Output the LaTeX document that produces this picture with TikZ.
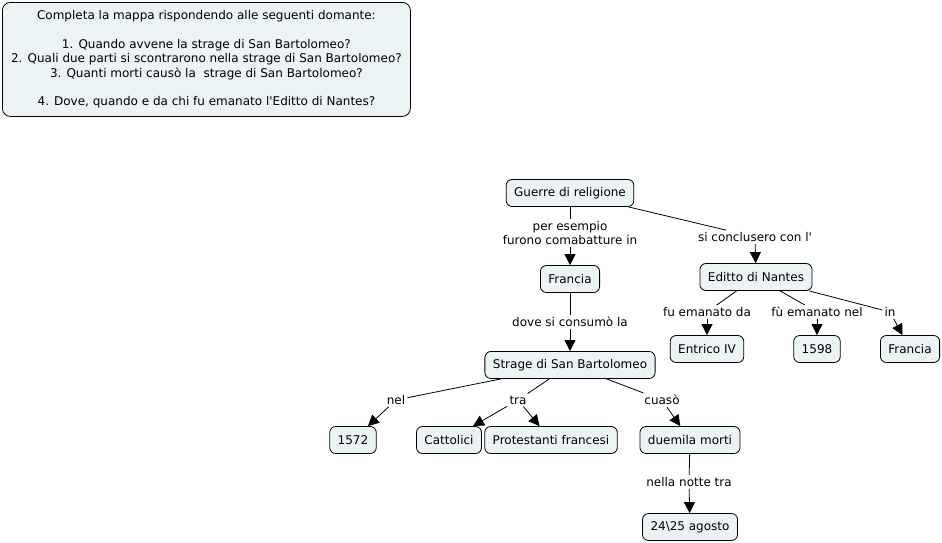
\documentclass[tikz,border=0pt]{standalone}
\usepackage{fontspec}
\setmainfont{DejaVu Sans}
\usetikzlibrary{positioning,arrows.meta}
\definecolor{cmapfill}{HTML}{ECF3F5}
\tikzset{
  concept/.style={draw=black,fill=cmapfill,rounded corners=6pt,align=center,
    font=\fontsize{12}{14.5}\selectfont,inner xsep=8pt,inner ysep=3pt,minimum height=27pt,line width=0.8pt},
  linkword/.style={align=center,font=\fontsize{12}{14.5}\selectfont,inner sep=2pt,fill=white},
  link/.style={line width=0.8pt,draw=black},
  flow/.style={-{Triangle[length=11pt,width=11pt]},line width=0.8pt,draw=black},
}
\begin{document}
\begin{tikzpicture}[x=1pt,y=-1pt]
  \useasboundingbox (0,0) rectangle (942,542);
  % domande
  \node[concept,rounded corners=8pt,minimum width=408pt,minimum height=114pt,anchor=north west] (quiz) at (2,2)
    {Completa la mappa rispondendo alle seguenti domante:\\[14pt]
     1. Quando avvene la strage di San Bartolomeo?\\
     2. Quali due parti si scontrarono nella strage di San Bartolomeo?\\
     3. Quanti morti causò la\ \ strage di San Bartolomeo?\\[14pt]
     4. Dove, quando e da chi fu emanato l\textquotesingle Editto di Nantes?};
  % concetti
  \node[concept] (guerre) at (570,193) {Guerre di religione};
  \node[concept] (francia) at (570,279) {Francia};
  \node[concept] (editto) at (756,277) {Editto di Nantes};
  \node[concept] (enrico) at (707,349) {Entrico IV};
  \node[concept] (anno) at (817,349) {1598};
  \node[concept] (franciab) at (910,349) {Francia};
  \node[concept] (strage) at (570,365) {Strage di San Bartolomeo};
  \node[concept] (data) at (353,440) {1572};
  \node[concept] (cattolici) at (449,440) {Cattolici};
  \node[concept] (protestanti) at (551,440) {Protestanti francesi};
  \node[concept] (morti) at (690,440) {duemila morti};
  \node[concept] (agosto) at (690,527) {24\textbackslash25 agosto};
  % parole legame
  \node[linkword] (lpere) at (570,233) {per esempio\\furono comabatture in};
  \node[linkword] (lconcl) at (755,237) {si conclusero con l\textquotesingle};
  \node[linkword] (ldove) at (570,322) {dove si consumò la};
  \node[linkword] (lda) at (707,312) {fu emanato da};
  \node[linkword] (lnel) at (817,312) {fù emanato nel};
  \node[linkword] (lin) at (890,312) {in};
  \node[linkword] (lanno) at (396,400) {nel};
  \node[linkword] (ltra) at (518,400) {tra};
  \node[linkword] (lcausa) at (662,400) {cuasò};
  \node[linkword] (lnotte) at (689,482) {nella notte tra};
  % collegamenti
  \draw[link] (guerre) -- (lpere);
  \draw[flow] (lpere) -- (francia);
  \draw[link] (guerre) -- (lconcl);
  \draw[flow] (lconcl) -- (editto);
  \draw[link] (francia) -- (ldove);
  \draw[flow] (ldove) -- (strage);
  \draw[link] (editto) -- (lda);
  \draw[flow] (lda) -- (enrico);
  \draw[link] (editto) -- (lnel);
  \draw[flow] (lnel) -- (anno);
  \draw[link] (editto) -- (lin);
  \draw[flow] (lin) -- (franciab);
  \draw[link] (strage) -- (lanno);
  \draw[flow] (lanno) -- (data);
  \draw[link] (strage) -- (ltra);
  \draw[flow] (ltra) -- (cattolici);
  \draw[flow] (ltra) -- (protestanti);
  \draw[link] (strage) -- (lcausa);
  \draw[flow] (lcausa) -- (morti);
  \draw[link] (morti) -- (lnotte);
  \draw[flow] (lnotte) -- (agosto);
\end{tikzpicture}
\end{document}
